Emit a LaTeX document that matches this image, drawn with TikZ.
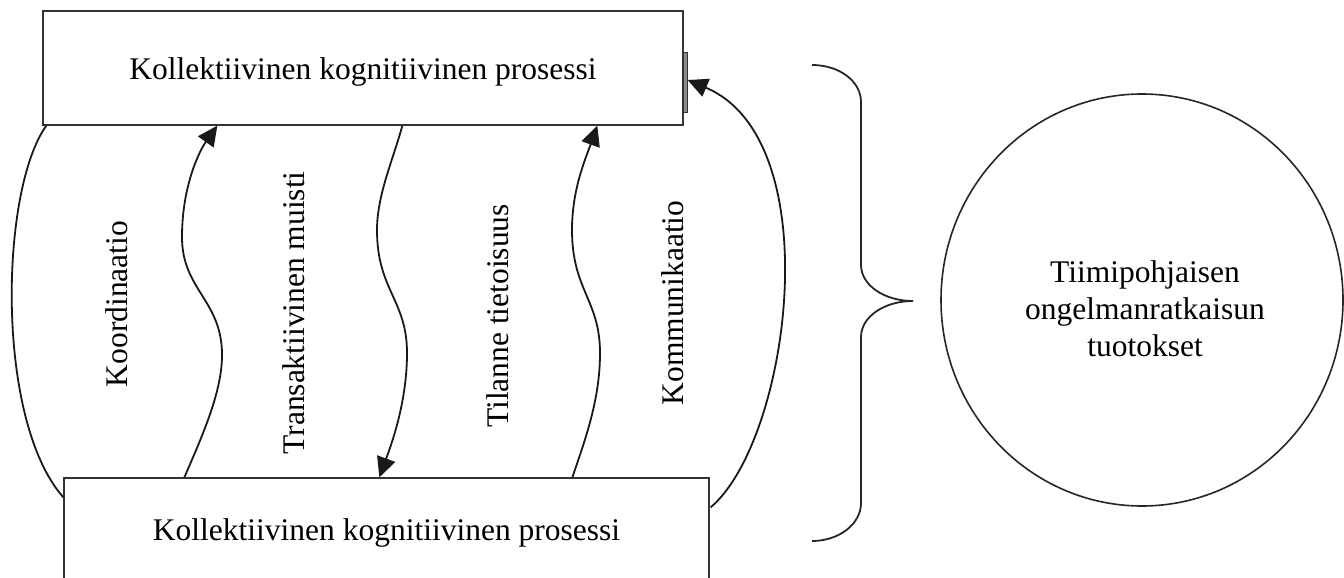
\documentclass[tikz,border=0pt]{standalone}
\usepackage{fontspec}
\setmainfont{Liberation Serif}
\usetikzlibrary{arrows.meta,calc,shapes.geometric}
\begin{document}
\begin{tikzpicture}[x=1pt,y=-1pt,
  every node/.style={font=\fontsize{31.5pt}{37pt}\selectfont, inner sep=0pt},
  procbox/.style={draw=black!80, line width=1.3pt, fill=white},
  flow/.style={draw=black!90, line width=1.8pt},
  tipped/.style={flow, -{Triangle[length=20pt,width=19pt]}},
  vlabel/.style={rotate=90},
  bracestyle/.style={draw=black!85, line width=1.8pt}]

\clip (0,0) rectangle (1344,578);
\useasboundingbox (0,0) rectangle (1344,578);

% the two process boxes
\node[procbox, minimum width=640pt, minimum height=114pt,
      text height=31pt, text depth=7pt] (top) at (363,68)
  {Kollektiivinen kognitiivinen prosessi};
\node[procbox, minimum width=645pt, minimum height=104pt,
      text height=27pt, text depth=7pt] (bot) at (386.5,530)
  {Kollektiivinen kognitiivinen prosessi};

% small tab on the right side of the upper box
\draw[draw=black!80, fill=black!45, line width=0.8pt]
  ($(top.east)+(0,-16)$) rectangle ($(top.east)+(4,44)$);
\coordinate (tab) at ($(top.east)+(4,12)$);

% connector end points on the boxes
\coordinate (a1) at ($(top.south west)+(4,0)$);
\coordinate (a2) at ($(bot.north west)+(0,20)$);
\coordinate (b1) at ($(bot.north west)+(121,0)$);
\coordinate (b2) at ($(top.south west)+(175,0)$);
\coordinate (c1) at ($(top.south west)+(360,0)$);
\coordinate (c2) at ($(bot.north west)+(316,0)$);
\coordinate (d1) at ($(bot.north west)+(509,0)$);
\coordinate (d2) at ($(top.south west)+(555,0)$);
\coordinate (e1) at ($(bot.north east)+(1,30)$);

% outer left arc
\draw[flow] (a1) .. controls (0,190) and (-5,420) .. (a2);

% wavy connectors between the boxes
\draw[tipped] (b1) .. controls (205,430) and (222,390) .. (222,355)
  .. controls (222,300) and (182,290) .. (182,237)
  .. controls (182,185) and (200,150) .. (b2);
\draw[tipped] (c1) .. controls (393,160) and (377,195) .. (377,230)
  .. controls (377,290) and (407,300) .. (407,353)
  .. controls (407,400) and (393,440) .. (c2);
\draw[tipped] (d1) .. controls (585,440) and (600,400) .. (600,353)
  .. controls (600,300) and (572,290) .. (572,230)
  .. controls (572,190) and (585,160) .. (d2);

% outer right arc
\draw[tipped] (e1) .. controls (790,440) and (830,140) .. (tab);

% labels
\node[vlabel] (lk) at (117,304) {Koordinaatio};
\node[vlabel] (lt) at (294,313) {Transaktiivinen muisti};
\node[vlabel] (ls) at (498,316) {Tilanne tietoisuus};
\node[vlabel] (lc) at (673,303) {Kommunikaatio};

% brace
\draw[bracestyle] (812,65) .. controls (839,65) and (861,81) .. (861,102)
  -- (861,265) .. controls (861,285) and (884,301) .. (913,301)
  .. controls (884,301) and (861,317) .. (861,337)
  -- (861,503) .. controls (861,524) and (839,541) .. (812,541);

% outcome circle
\node[draw=black!85, line width=1.6pt, ellipse, minimum width=402pt,
      minimum height=412pt] (res) at (1142,300) {};
\node[align=center] (restext) at (1145,309)
  {Tiimipohjaisen\\ongelmanratkaisun\\tuotokset};
\end{tikzpicture}
\end{document}
